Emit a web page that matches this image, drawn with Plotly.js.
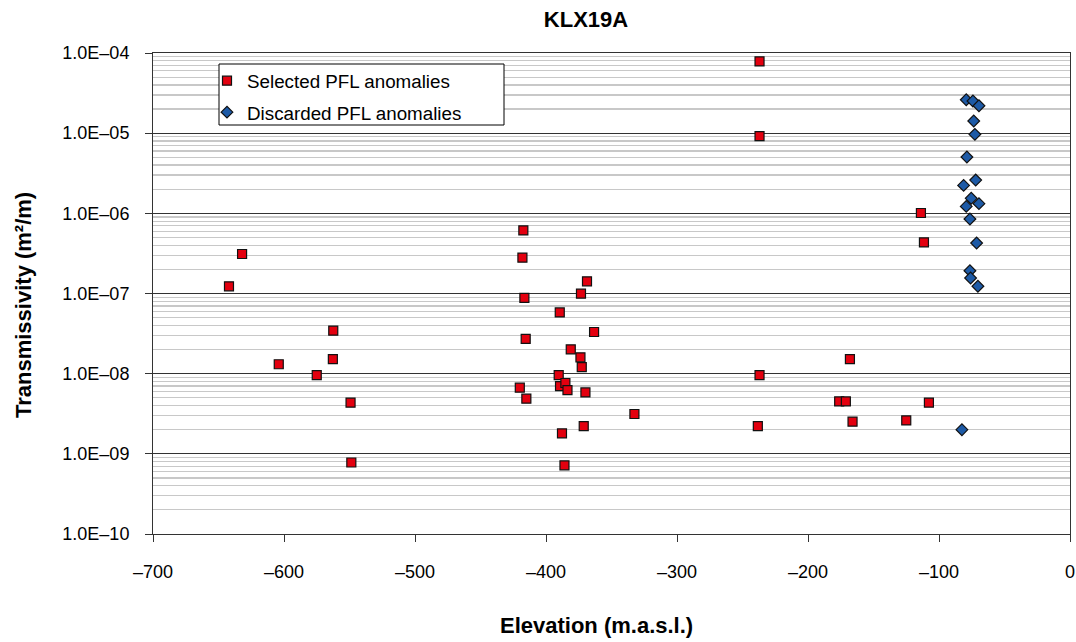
<!DOCTYPE html>
<html>
<head>
<meta charset="utf-8">
<script src="https://cdn.plot.ly/plotly-3.0.1.min.js"></script>
<style>
  html, body { margin: 0; padding: 0; background: #ffffff; }
  #chart { width: 1076px; height: 642px; }
</style>
</head>
<body>
<div id="chart"></div>
<script>
// Borehole KLX19A: PFL anomaly transmissivity against elevation

// Selected PFL anomalies
const selectedElevation = [
  -642, -632, -604, -575, -562.4, -562.7, -549.2, -548.6,
  -420, -418, -417.3, -416.5, -415.5, -415,
  -390.3, -389.5, -389.3, -387.8, -385.9, -385.2, -383.6, -381.1,
  -373.7, -373.3, -372.7, -371.2, -369.9, -368.7, -363.3, -332.5,
  -237, -237, -237, -238.3,
  -176.2, -171.1, -168, -166, -125, -113.8, -111.5, -107.7
];
const selectedT = [
  1.23e-7, 3.11e-7, 1.31e-8, 9.6e-9, 3.44e-8, 1.52e-8, 4.35e-9, 7.8e-10,
  6.68e-9, 2.8e-7, 6.12e-7, 8.8e-8, 2.71e-8, 4.87e-9,
  9.6e-9, 5.8e-8, 7.0e-9, 1.8e-9, 7.18e-10, 7.65e-9, 6.25e-9, 2.01e-8,
  1.6e-8, 9.95e-8, 1.21e-8, 2.22e-9, 5.83e-9, 1.42e-7, 3.31e-8, 3.14e-9,
  7.85e-5, 9.2e-6, 9.6e-9, 2.22e-9,
  4.51e-9, 4.51e-9, 1.52e-8, 2.52e-9, 2.61e-9, 1.01e-6, 4.34e-7, 4.35e-9
];

// Discarded PFL anomalies
const discardedElevation = [
  -79.2, -74.1, -69.5, -73.5, -72.6, -78.7, -72, -81.2, -75.4,
  -69.5, -79.2, -76.4, -71.3, -76.4, -75.9, -70.3, -82.5
];
const discardedT = [
  2.61e-5, 2.52e-5, 2.2e-5, 1.42e-5, 9.66e-6, 5.04e-6, 2.6e-6, 2.23e-6, 1.54e-6,
  1.32e-6, 1.22e-6, 8.5e-7, 4.27e-7, 1.92e-7, 1.56e-7, 1.23e-7, 2.0e-9
];

// Axis ticks
const xTickVals = [-700, -600, -500, -400, -300, -200, -100, 0];
const xTickText = ['\u2013700', '\u2013600', '\u2013500', '\u2013400', '\u2013300', '\u2013200', '\u2013100', '0'];
const yTickVals = [1e-10, 1e-9, 1e-8, 1e-7, 1e-6, 1e-5, 1e-4];
const yTickText = ['1.0E\u201310', '1.0E\u201309', '1.0E\u201308', '1.0E\u201307', '1.0E\u201306', '1.0E\u201305', '1.0E\u201304'];

const FONT = 'Liberation Sans, Arial, Helvetica, sans-serif';

// plot area in pixels, used to place the legend frame and titles
const PLOT = { left: 153, right: 1070, top: 53, bottom: 534 };
const px2x = (px) => (px - PLOT.left) / (PLOT.right - PLOT.left);
const px2y = (py) => (PLOT.bottom - py) / (PLOT.bottom - PLOT.top);

const traces = [
  {
    type: 'scatter', mode: 'markers', name: 'Selected PFL anomalies',
    legendgroup: 'selected',
    x: selectedElevation, y: selectedT,
    marker: { symbol: 'square', size: 9, color: '#e3000f', line: { color: '#111111', width: 1.2 } }
  },
  {
    type: 'scatter', mode: 'markers', name: 'Discarded PFL anomalies',
    legendgroup: 'discarded',
    x: discardedElevation, y: discardedT,
    marker: { symbol: 'diamond', size: 9, color: '#1d5aa6', line: { color: '#111111', width: 1.2 } }
  }
];

const layout = {
  width: 1076, height: 642,
  margin: { l: PLOT.left, r: 1076 - PLOT.right, t: PLOT.top, b: 642 - PLOT.bottom, pad: 0 },
  paper_bgcolor: '#ffffff', plot_bgcolor: '#ffffff',
  font: { family: FONT, size: 18, color: '#000000' },
  showlegend: true,
  title: {
    text: '<b>KLX19A</b>',
    font: { family: FONT, size: 22, color: '#000000' },
    xref: 'container', x: 586 / 1076, xanchor: 'center',
    yref: 'container', y: 1 - 19.5 / 642, yanchor: 'middle'
  },
  xaxis: {
    range: [-700, 0],
    tickmode: 'array', tickvals: xTickVals, ticktext: xTickText,
    showgrid: false, zeroline: false,
    ticks: 'outside', ticklen: 7, tickwidth: 1, tickcolor: '#333333',
    showline: true, linecolor: '#333333', linewidth: 1, mirror: true,
    tickfont: { family: FONT, size: 18, color: '#000000' },
    ticklabelstandoff: 14
  },
  yaxis: {
    type: 'log', range: [-10, -4],
    tickmode: 'array', tickvals: yTickVals, ticktext: yTickText,
    showgrid: true, gridcolor: '#333333', gridwidth: 1,
    minor: { dtick: 'D1', showgrid: true, gridcolor: '#c8c8c8', gridwidth: 1.2, ticks: '' },
    zeroline: false,
    ticks: 'outside', ticklen: 7, tickwidth: 1, tickcolor: '#333333',
    showline: true, linecolor: '#333333', linewidth: 1, mirror: true,
    tickfont: { family: FONT, size: 18, color: '#000000' },
    ticklabelstandoff: 12
  },
  legend: {
    x: px2x(207), xanchor: 'left',
    y: px2y(62), yanchor: 'top',
    bgcolor: 'rgba(0,0,0,0)', borderwidth: 0,
    traceorder: 'grouped', tracegroupgap: 4,
    font: { family: FONT, size: 18.8, color: '#000000' },
    itemsizing: 'trace'
  },
  shapes: [
    {
      // legend frame: white box covering the grid, legend entries sit on top
      type: 'rect', xref: 'paper', yref: 'paper', layer: 'above',
      x0: px2x(219), x1: px2x(504), y0: px2y(125), y1: px2y(64),
      fillcolor: '#ffffff', line: { color: '#000000', width: 1 }
    }
  ],
  annotations: [
    {
      text: '<b>Elevation (m.a.s.l.)</b>',
      xref: 'paper', yref: 'paper',
      x: px2x(596), y: px2y(625),
      xanchor: 'center', yanchor: 'middle', showarrow: false,
      font: { family: FONT, size: 22, color: '#000000' }
    },
    {
      text: '<b>Transmissivity (m\u00b2/m)</b>',
      xref: 'paper', yref: 'paper',
      x: 0, xshift: -130, y: px2y(305),
      xanchor: 'center', yanchor: 'middle', textangle: -90, showarrow: false,
      font: { family: FONT, size: 22, color: '#000000' }
    }
  ]
};

Plotly.newPlot('chart', traces, layout, { displayModeBar: false, staticPlot: true });
</script>
</body>
</html>
